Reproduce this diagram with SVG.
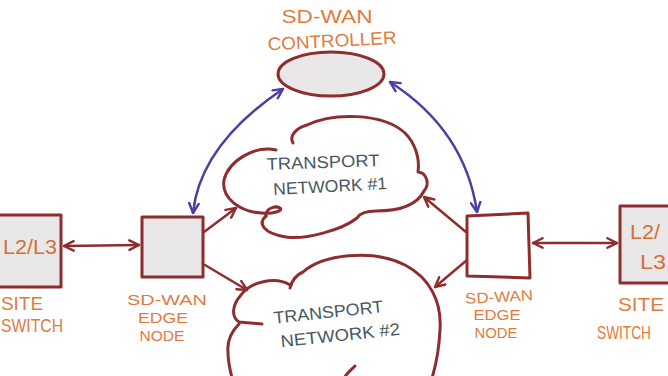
<svg xmlns="http://www.w3.org/2000/svg" width="668" height="376" viewBox="0 0 668 376">
<defs>
<marker id="ar" viewBox="0 0 10 10" refX="9" refY="5" markerWidth="12" markerHeight="12" markerUnits="userSpaceOnUse" orient="auto-start-reverse">
<path d="M1,1 L9,5 L1,9" fill="none" stroke="#8e2d2d" stroke-width="2" stroke-linecap="round" stroke-linejoin="round"/>
</marker>
<marker id="ab" viewBox="0 0 10 10" refX="9" refY="5" markerWidth="12" markerHeight="12" markerUnits="userSpaceOnUse" orient="auto-start-reverse">
<path d="M1,1 L9,5 L1,9" fill="none" stroke="#4b3fa3" stroke-width="2" stroke-linecap="round" stroke-linejoin="round"/>
</marker>
</defs>
<style>
.shape{fill:#e9e7e7;stroke:#8e2d2d;stroke-width:3;stroke-linejoin:round}
.cloud{fill:none;stroke:#8e2d2d;stroke-width:3;stroke-linecap:round;stroke-linejoin:round}
.red{fill:none;stroke:#8e2d2d;stroke-width:2.5;stroke-linecap:round}
.blue{fill:none;stroke:#4b3fa3;stroke-width:2.5;stroke-linecap:round}
.lbl{font-family:"Liberation Sans",sans-serif;fill:#e27a3e;text-anchor:middle;font-size:18px}
.sm{font-size:15px}
.net{font-family:"Liberation Sans",sans-serif;fill:#46585f;text-anchor:middle;font-size:17px}
.box{font-family:"Liberation Sans",sans-serif;fill:#d2703a;font-size:20px;text-anchor:middle}
</style>
<rect width="668" height="376" fill="#ffffff"/>

<g id="connectors">
<path class="blue" d="M283,89 Q200,145 193,213" marker-start="url(#ab)" marker-end="url(#ab)"/>
<path class="blue" d="M390,82 Q465,130 477,212" marker-start="url(#ab)" marker-end="url(#ab)"/>
<path class="red" d="M64,246 L139,245" marker-start="url(#ar)" marker-end="url(#ar)"/>
<path class="red" d="M533,243 L617,243" marker-start="url(#ar)" marker-end="url(#ar)"/>
<path class="red" d="M204,232 L236,208" marker-end="url(#ar)"/>
<path class="red" d="M205,265 L247,290" marker-end="url(#ar)"/>
<path class="red" d="M466,232 L424,197" marker-end="url(#ar)"/>
<path class="red" d="M467,260 L435,287" marker-end="url(#ar)"/>
</g>

<g id="controller">
<ellipse class="shape" cx="331" cy="74" rx="53" ry="22"/>
<text class="lbl" x="327" y="23" font-size="22" textLength="91" lengthAdjust="spacingAndGlyphs">SD-WAN</text>
<text class="lbl" x="332" y="47" font-size="21" textLength="129" lengthAdjust="spacingAndGlyphs" transform="rotate(-3 332 40)">CONTROLLER</text>
</g>

<g id="transport1">
<path class="cloud" d="M293,143 C289,136 296,128 307,125 C332,113 382,112 405,133 C415,143 420,158 418,172 C427,173 430,184 424,191 C417,205 400,211 376,211 C368,211 360,213 357,218 C342,230 305,240 286,237 C262,233 258,223 266,216"/>
<path class="cloud" d="M276,150 C256,145 229,160 224,180 C221,198 240,212 262,213 C272,214 284,211 280,208 C275,205 265,209 266,216"/>
<text class="net" x="323" y="168" textLength="113" lengthAdjust="spacingAndGlyphs" transform="rotate(-2 323 162)">TRANSPORT</text>
<text class="net" x="330" y="192" textLength="114" lengthAdjust="spacingAndGlyphs" transform="rotate(-3 330 184)">NETWORK #1</text>
</g>

<g id="transport2">
<path class="cloud" d="M290,288 C292,280 296,275 303,272 C322,255 372,248 405,265 C430,278 442,302 440,330 C439,350 436,365 432,378"/>
<path class="cloud" d="M290,285 C275,276 250,282 241,295 C232,305 231,317 239,322 L262,324"/>
<path class="cloud" d="M239,324 C231,332 227,342 228,352 C228,362 230,370 232,378"/>
<path class="cloud" d="M355,366 C351,370 347,373 344,378"/>
<text class="net" x="328" y="318" textLength="110" lengthAdjust="spacingAndGlyphs" transform="rotate(-6 328 310)">TRANSPORT</text>
<text class="net" x="340" y="341" textLength="120" lengthAdjust="spacingAndGlyphs" transform="rotate(-6 340 333)">NETWORK #2</text>
</g>

<g id="edge-left">
<rect class="shape" x="142" y="217" width="61" height="60"/>
<text class="lbl sm" x="167" y="305" textLength="80" lengthAdjust="spacingAndGlyphs">SD-WAN</text>
<text class="lbl sm" x="163" y="323" textLength="50" lengthAdjust="spacingAndGlyphs">EDGE</text>
<text class="lbl sm" x="162" y="341" textLength="45" lengthAdjust="spacingAndGlyphs">NODE</text>
</g>

<g id="edge-right">
<polygon class="shape" points="467,216 528,213 530,278 467,276" style="fill:#ffffff"/>
<text class="lbl sm" x="499" y="302" textLength="68" lengthAdjust="spacingAndGlyphs" transform="rotate(-3 499 296)">SD-WAN</text>
<text class="lbl sm" x="497" y="320" textLength="47" lengthAdjust="spacingAndGlyphs">EDGE</text>
<text class="lbl sm" x="496" y="338" textLength="43" lengthAdjust="spacingAndGlyphs">NODE</text>
</g>

<g id="switch-left">
<rect class="shape" x="-5" y="215" width="66" height="72"/>
<text class="box" x="30" y="254" textLength="54" lengthAdjust="spacingAndGlyphs">L2/L3</text>
<text class="lbl" x="22" y="310" textLength="42" lengthAdjust="spacingAndGlyphs">SITE</text>
<text class="lbl" x="32" y="332" textLength="62" lengthAdjust="spacingAndGlyphs">SWITCH</text>
</g>

<g id="switch-right">
<rect class="shape" x="620" y="206" width="60" height="77"/>
<text class="box" x="645" y="239" textLength="30" lengthAdjust="spacingAndGlyphs">L2/</text>
<text class="box" x="653" y="269" textLength="26" lengthAdjust="spacingAndGlyphs">L3</text>
<text class="lbl" x="641" y="311" textLength="46" lengthAdjust="spacingAndGlyphs">SITE</text>
<text class="lbl" x="624" y="339" font-size="16" textLength="54" lengthAdjust="spacingAndGlyphs">SWITCH</text>
</g>
</svg>
